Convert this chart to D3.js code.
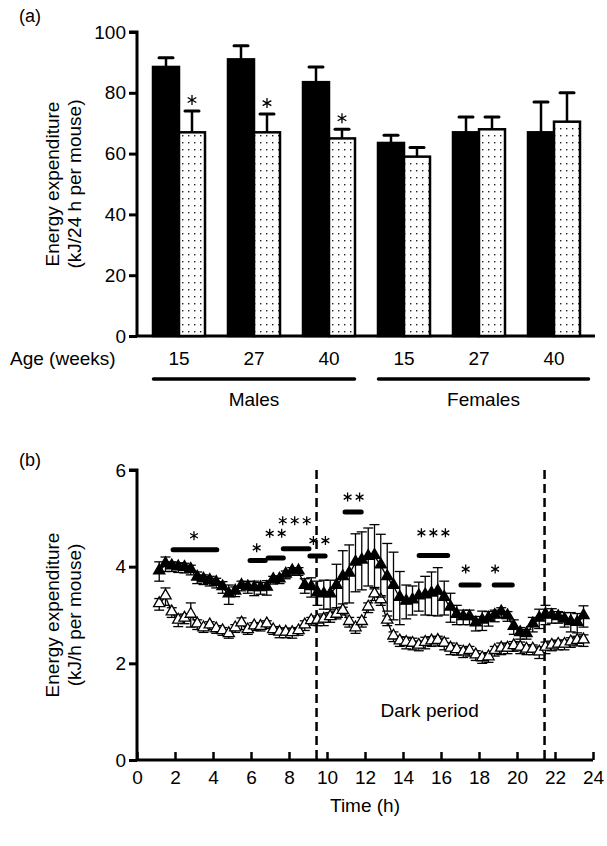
<!DOCTYPE html>
<html>
<head>
<meta charset="utf-8">
<script src="https://cdn.jsdelivr.net/npm/d3@7"></script>
<style>
body{margin:0;background:#fff;}
svg{display:block;font-family:"Liberation Sans",Arial,sans-serif;}
</style>
</head>
<body>
<svg width="607" height="846"></svg>
<script>
"use strict";

// panel (a)
var groups=["M15","M27","M40","F15","F27","F40"];
var ageLabels=["15","27","40","15","27","40"];
var blackMean=[88.5,91,83.5,63.5,67,67];
var blackTop=[91.5,95.5,88.5,66,72,77];
var dotMean=[67,67,65,59,68,70.5];
var dotTop=[74,73,68,62,72,80];
var dotStar=[true,true,true,false,false,false];
var yTicksA=[0,20,40,60,80,100];

// panel (b)
var hours=[1.17,1.5,1.83,2.17,2.5,2.83,3.17,3.5,3.83,4.17,4.5,4.83,5.17,5.5,5.83,6.17,6.5,6.83,
	7.17,7.5,7.83,8.17,8.5,8.83,9.17,9.5,9.83,10.17,10.5,10.83,11.17,11.5,11.83,12.17,12.5,12.83,
	13.17,13.5,13.83,14.17,14.5,14.83,15.17,15.5,15.83,16.17,16.5,16.83,17.17,17.5,17.83,18.17,18.5,18.83,
	19.17,19.5,19.83,20.17,20.5,20.83,21.17,21.5,21.83,22.17,22.5,22.83,23.17,23.5];
var filledMean=[3.9,4.05,4.0,3.98,3.97,3.93,3.77,3.73,3.7,3.66,3.57,3.42,3.48,3.6,3.57,3.55,3.55,3.56,
	3.72,3.73,3.83,3.9,3.9,3.6,3.57,3.45,3.42,3.42,3.6,3.78,3.85,4.08,4.12,4.2,4.22,4.02,
	3.78,3.6,3.35,3.27,3.3,3.38,3.4,3.44,3.48,3.35,3.15,3.0,2.95,2.95,2.82,2.88,2.92,2.98,
	3.05,2.97,2.75,2.62,2.6,2.8,2.92,3.0,2.98,2.95,2.9,2.85,2.83,2.97];
var filledErr=[0.2,0.15,0.1,0.1,0.1,0.1,0.12,0.1,0.1,0.1,0.12,0.2,0.1,0.1,0.12,0.15,0.12,0.15,
	0.08,0.08,0.08,0.08,0.08,0.15,0.2,0.25,0.3,0.3,0.45,0.55,0.6,0.6,0.6,0.6,0.65,0.65,
	0.7,0.7,0.55,0.35,0.3,0.3,0.4,0.45,0.5,0.35,0.3,0.2,0.15,0.15,0.15,0.2,0.15,0.12,
	0.1,0.1,0.15,0.12,0.1,0.15,0.2,0.2,0.15,0.12,0.15,0.2,0.2,0.22];
var openMean=[3.22,3.38,3.05,2.88,2.92,3.0,2.8,2.72,2.78,2.7,2.66,2.6,2.72,2.82,2.68,2.76,2.75,2.8,
	2.68,2.63,2.63,2.62,2.66,2.78,2.87,2.88,2.9,2.95,3.0,3.08,2.85,2.72,2.85,3.15,3.42,3.3,
	2.88,2.55,2.45,2.42,2.4,2.36,2.42,2.45,2.46,2.4,2.3,2.27,2.22,2.25,2.16,2.1,2.12,2.25,
	2.3,2.3,2.35,2.32,2.28,2.28,2.22,2.32,2.36,2.38,2.38,2.43,2.46,2.47];
var openErr=[0.12,0.18,0.1,0.12,0.1,0.25,0.1,0.08,0.08,0.08,0.08,0.08,0.08,0.12,0.08,0.08,0.08,0.08,
	0.08,0.1,0.1,0.1,0.08,0.1,0.08,0.1,0.12,0.1,0.08,0.08,0.1,0.1,0.1,0.1,0.12,0.1,
	0.1,0.1,0.1,0.12,0.12,0.1,0.12,0.1,0.1,0.12,0.12,0.1,0.1,0.1,0.1,0.1,0.1,0.1,
	0.12,0.1,0.1,0.12,0.1,0.1,0.12,0.12,0.1,0.1,0.1,0.1,0.1,0.12];
var sigStart=[1.9,5.95,6.9,7.7,9.1,10.95,14.85,17.05,18.8];
var sigEnd=[4.2,6.75,7.7,9.05,9.9,11.8,16.35,18.0,19.75];
var sigLevel=[4.35,4.13,4.18,4.37,4.22,5.13,4.23,3.62,3.62];
var sigText=["*","*","**","***","**","**","***","*","*"];
var sigStarX=[3.0,6.3,7.3,8.3,9.6,11.4,15.6,17.3,18.85];
var sigStarLevel=[4.64,4.39,4.69,4.95,4.54,5.44,4.7,3.95,3.95];
var darkStart=9.45, darkEnd=21.45;
var xTicksB=[0,2,4,6,8,10,12,14,16,18,20,22,24];
var yTicksB=[0,2,4,6];

function draw(){
	var svg=d3.select("svg");

	var defs=svg.append("defs");
	var pat=defs.append("pattern").attr("id","dots")
		.attr("patternUnits","userSpaceOnUse").attr("width",6).attr("height",7);
	pat.append("rect").attr("width",6).attr("height",7).attr("fill","#fff");
	pat.append("rect").attr("x",2).attr("y",2).attr("width",1.4).attr("height",1.4).attr("fill","#222");

	// draws a 6-point asterisk centred at (x,y)
	function star(g,x,y,r){
		var d="";
		[90,30,-30].forEach(function(a){
			var dx=r*Math.cos(a*Math.PI/180), dy=r*Math.sin(a*Math.PI/180);
			d+="M"+(x-dx)+","+(y-dy)+"L"+(x+dx)+","+(y+dy);
		});
		g.append("path").attr("d",d).attr("stroke","#000").attr("stroke-width",1.3).attr("fill","none");
	}
	function stars(g,text,cx,cy,r,gap){
		var n=text.length, x0=cx-(n-1)*gap/2;
		for(var k=0;k<n;k++){ star(g,x0+k*gap,cy,r); }
	}

	// ---------- panel (a) ----------
	var yA=d3.scaleLinear().domain([0,100]).range([336,32]);
	var xA=d3.scaleBand().domain(groups).range([141.5,591.5]);
	var bw=26;

	svg.append("text").attr("x",19).attr("y",22).attr("font-size",18).text("(a)");

	svg.append("g").attr("transform","translate(137,0)")
		.call(d3.axisLeft(yA).tickValues(yTicksA).tickSize(8).tickPadding(3).tickFormat(d3.format("d")))
		.call(function(g){
			g.select(".domain").attr("stroke-width",3).attr("d","M-8,"+yA(100)+"H0V"+yA(0));
			g.selectAll(".tick line").attr("stroke-width",3);
			g.selectAll(".tick text").attr("font-size",19).attr("fill","#000");
		});
	svg.append("line").attr("x1",136).attr("x2",595).attr("y1",yA(0)).attr("y2",yA(0))
		.attr("stroke","#000").attr("stroke-width",3);

	var ga=svg.append("g");
	groups.forEach(function(g,i){
		var cx=xA(g)+xA.bandwidth()/2;
		[[cx-bw/2,blackMean[i],blackTop[i]],[cx+bw/2,dotMean[i],dotTop[i]]].forEach(function(e){
			ga.append("line").attr("x1",e[0]).attr("x2",e[0]).attr("y1",yA(e[1])).attr("y2",yA(e[2]))
				.attr("stroke","#000").attr("stroke-width",2.5);
			ga.append("line").attr("x1",e[0]-7).attr("x2",e[0]+7).attr("y1",yA(e[2])).attr("y2",yA(e[2]))
				.attr("stroke","#000").attr("stroke-width",3).attr("stroke-linecap","round");
		});
		ga.append("rect").attr("x",cx-bw).attr("y",yA(blackMean[i])).attr("width",bw)
			.attr("height",yA(0)-yA(blackMean[i])).attr("fill","#000").attr("stroke","#000").attr("stroke-width",2.5);
		ga.append("rect").attr("x",cx).attr("y",yA(dotMean[i])).attr("width",bw)
			.attr("height",yA(0)-yA(dotMean[i])).attr("fill","url(#dots)").attr("stroke","#000").attr("stroke-width",2.5);
		if(dotStar[i]){
			star(ga,cx+bw/2,yA(dotTop[i])-11,5);
		}
		svg.append("text").attr("x",cx).attr("y",365).attr("text-anchor","middle")
			.attr("font-size",19).text(ageLabels[i]);
	});

	svg.append("text").attr("x",10).attr("y",365).attr("font-size",19).text("Age (weeks)");
	var mEnds=[xA("M15")+12,xA("M40")+xA.bandwidth()-12];
	var fEnds=[xA("F15")+12,xA("F40")+xA.bandwidth()-3];
	[[mEnds,"Males"],[fEnds,"Females"]].forEach(function(s){
		svg.append("line").attr("x1",s[0][0]).attr("x2",s[0][1]).attr("y1",379).attr("y2",379)
			.attr("stroke","#000").attr("stroke-width",3.5).attr("stroke-linecap","round");
		svg.append("text").attr("x",(s[0][0]+s[0][1])/2).attr("y",406).attr("text-anchor","middle")
			.attr("font-size",19).text(s[1]);
	});

	var la=svg.append("g").attr("transform","translate(59,184) rotate(-90)").attr("font-size",19).attr("text-anchor","middle");
	la.append("text").attr("x",0).attr("y",0).text("Energy expenditure");
	la.append("text").attr("x",0).attr("y",22).text("(kJ/24 h per mouse)");

	// ---------- panel (b) ----------
	var xB=d3.scaleLinear().domain([0,24]).range([137,593]);
	var yB=d3.scaleLinear().domain([0,6]).range([760,470]);

	svg.append("text").attr("x",19).attr("y",466).attr("font-size",18).text("(b)");

	svg.append("g").attr("transform","translate(137,0)")
		.call(d3.axisLeft(yB).tickValues(yTicksB).tickSize(8).tickPadding(3).tickFormat(d3.format("d")))
		.call(function(g){
			g.select(".domain").attr("stroke-width",3).attr("d","M-8,"+yB(6)+"H0V"+yB(0));
			g.selectAll(".tick line").attr("stroke-width",3);
			g.selectAll(".tick text").attr("font-size",19).attr("fill","#000");
		});
	svg.append("g").attr("transform","translate(0,"+yB(0)+")")
		.call(d3.axisTop(xB).tickValues(xTicksB).tickSize(8).tickFormat(d3.format("d")))
		.call(function(g){
			g.select(".domain").attr("stroke-width",3).attr("d","M"+(xB(0)-1)+",0H"+xB(24));
			g.selectAll(".tick line").attr("stroke-width",2.5);
			g.selectAll(".tick text").attr("font-size",19).attr("fill","#000").attr("y",11).attr("dy","0.71em");
		});

	svg.append("text").attr("x",xB(12)).attr("y",812).attr("text-anchor","middle").attr("font-size",19).text("Time (h)");

	var lb=svg.append("g").attr("transform","translate(59,"+yB(3)+") rotate(-90)").attr("font-size",19).attr("text-anchor","middle");
	lb.append("text").attr("x",0).attr("y",0).text("Energy expenditure");
	lb.append("text").attr("x",0).attr("y",22).text("(kJ/h per mouse)");

	[darkStart,darkEnd].forEach(function(h){
		svg.append("line").attr("x1",xB(h)).attr("x2",xB(h)).attr("y1",yB(6)).attr("y2",yB(0))
			.attr("stroke","#000").attr("stroke-width",2.5).attr("stroke-dasharray","9,5");
	});
	svg.append("text").attr("x",xB(15.4)).attr("y",yB(0.88)).attr("text-anchor","middle")
		.attr("font-size",19).text("Dark period");

	// significance bars
	var gs=svg.append("g");
	sigStart.forEach(function(s,i){
		gs.append("line").attr("x1",xB(s)).attr("x2",xB(sigEnd[i])).attr("y1",yB(sigLevel[i])).attr("y2",yB(sigLevel[i]))
			.attr("stroke","#000").attr("stroke-width",5).attr("stroke-linecap","round");
		stars(gs,sigText[i],xB(sigStarX[i]),yB(sigStarLevel[i]),4.5,12);
	});

	var tri=d3.symbol().type(d3.symbolTriangle).size(55);

	function series(mean,err,fill){
		var g=svg.append("g");
		hours.forEach(function(h,i){
			var x=xB(h);
			g.append("line").attr("x1",x).attr("x2",x).attr("y1",yB(mean[i]-err[i])).attr("y2",yB(mean[i]+err[i]))
				.attr("stroke","#000").attr("stroke-width",1.3);
			[mean[i]-err[i],mean[i]+err[i]].forEach(function(v){
				g.append("line").attr("x1",x-5).attr("x2",x+5).attr("y1",yB(v)).attr("y2",yB(v))
					.attr("stroke","#000").attr("stroke-width",1.3);
			});
		});
		g.append("path").attr("d",d3.line().x(function(d,i){return xB(hours[i]);}).y(function(d){return yB(d);})(mean))
			.attr("fill","none").attr("stroke","#000").attr("stroke-width",1.3);
		hours.forEach(function(h,i){
			g.append("path").attr("d",tri).attr("transform","translate("+xB(h)+","+(yB(mean[i])-1)+")")
				.attr("fill",fill).attr("stroke","#000").attr("stroke-width",1.3);
		});
	}
	series(openMean,openErr,"#fff");
	series(filledMean,filledErr,"#000");
}

draw();
</script>
</body>
</html>
